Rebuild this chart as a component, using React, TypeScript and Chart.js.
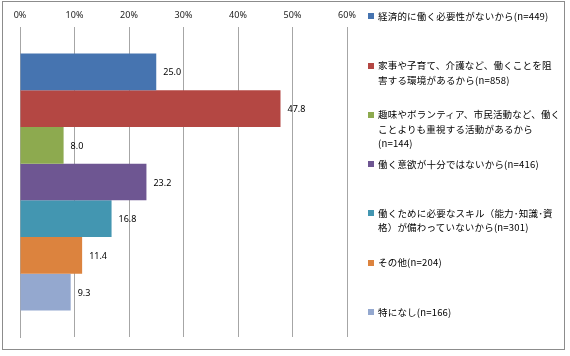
import React, { useEffect, useRef } from "react";
import { Chart, registerables } from "chart.js";

Chart.register(...registerables);

const categories: string[][] = [
  ["経済的に働く必要性がないから(n=449)"],
  ["家事や子育て、介護など、働くことを阻", "害する環境があるから(n=858)"],
  ["趣味やボランティア、市民活動など、働く", "ことよりも重視する活動があるから", "(n=144)"],
  ["働く意欲が十分ではないから(n=416)"],
  ["働くために必要なスキル（能力･知識･資", "格）が備わっていないから(n=301)"],
  ["その他(n=204)"],
  ["特になし(n=166)"],
];
const values: number[] = [25.0, 47.8, 8.0, 23.2, 16.8, 11.4, 9.3];
const colors: string[] = ["#4674B0", "#B44743", "#8DAA4F", "#6E5692", "#4396B1", "#DC833E", "#94A8CF"];
const tickValues: number[] = [0, 10, 20, 30, 40, 50, 60];

const valueLabelPlugin = {
  id: "valueLabels",
  afterDatasetsDraw(chart: any) {
    const ctx = chart.ctx;
    ctx.save();
    ctx.font = "9px 'Noto Sans', sans-serif";
    ctx.fillStyle = "#000";
    ctx.textBaseline = "middle";
    ctx.textAlign = "left";
    chart.data.datasets.forEach((ds: any, i: number) => {
      const meta = chart.getDatasetMeta(i);
      meta.data.forEach((bar: any, j: number) => {
        const v = ds.data[j] as number;
        ctx.fillText(v.toFixed(1), bar.x + 7, bar.y + 1);
      });
    });
    ctx.restore();
  },
};

export default function App() {
  const ref = useRef<HTMLCanvasElement | null>(null);
  useEffect(() => {
    document.body.style.margin = "0";
    if (!ref.current) return;
    const chart = new Chart(ref.current, {
      type: "bar",
      data: {
        labels: [""],
        datasets: values.map((v, i) => ({
          label: categories[i].join(""),
          data: [v],
          backgroundColor: colors[i],
          borderWidth: 0,
          categoryPercentage: 0.829,
          barPercentage: 1,
        })),
      },
      options: {
        indexAxis: "y",
        animation: false,
        responsive: false,
        maintainAspectRatio: false,
        layout: { padding: { left: 0, top: 0, right: 223, bottom: 19 } },
        plugins: { legend: { display: false }, tooltip: { enabled: false } },
        scales: {
          x: {
            position: "top",
            min: 0,
            max: 60,
            afterBuildTicks: (s: any) => {
              s.ticks = tickValues.map((v) => ({ value: v }));
            },
            afterFit: (s: any) => {
              s.height = 27;
            },
            ticks: {
              callback: (v: any) => v + "%",
              font: { size: 9, family: "'Noto Sans', sans-serif" },
              color: "#222",
              padding: 6,
            },
            grid: { color: "#a6a6a6", drawTicks: false, lineWidth: 1 },
            border: { display: false },
          },
          y: {
            afterFit: (s: any) => {
              s.width = 20;
            },
            ticks: { display: false },
            grid: { display: false, drawTicks: false },
            border: { display: true, color: "#a6a6a6", width: 1 },
          },
        },
      },
      plugins: [valueLabelPlugin],
    } as any);
    return () => chart.destroy();
  }, []);

  return (
    <div
      style={{
        position: "relative",
        width: 570,
        height: 356,
        background: "#fff",
        overflow: "hidden",
      }}
    >
      <canvas ref={ref} width={570} height={356} style={{ position: "absolute", left: 0, top: 0 }} />
      <div
        style={{
          position: "absolute",
          left: 2,
          top: 1,
          width: 563,
          height: 349,
          border: "1px solid #8c8c8c",
          boxSizing: "border-box",
          pointerEvents: "none",
        }}
      />
      <div
        style={{
          position: "absolute",
          left: 368,
          top: 8.75,
          width: 195,
          fontFamily: "'Noto Sans CJK JP', sans-serif",
          fontSize: 9.5,
          lineHeight: "14.5px",
          letterSpacing: "0.2px",
          color: "#000",
        }}
      >
        {categories.map((lines, i) => (
          <div key={i} style={{ height: 49.3, display: "flex", alignItems: "flex-start" }}>
            <div
              style={{
                width: 6,
                height: 6,
                background: colors[i],
                marginTop: 4.5,
                marginRight: 4,
                flex: "0 0 auto",
              }}
            />
            <div style={{ whiteSpace: "nowrap" }}>
              {lines.map((l, k) => (
                <div key={k}>{l}</div>
              ))}
            </div>
          </div>
        ))}
      </div>
    </div>
  );
}
